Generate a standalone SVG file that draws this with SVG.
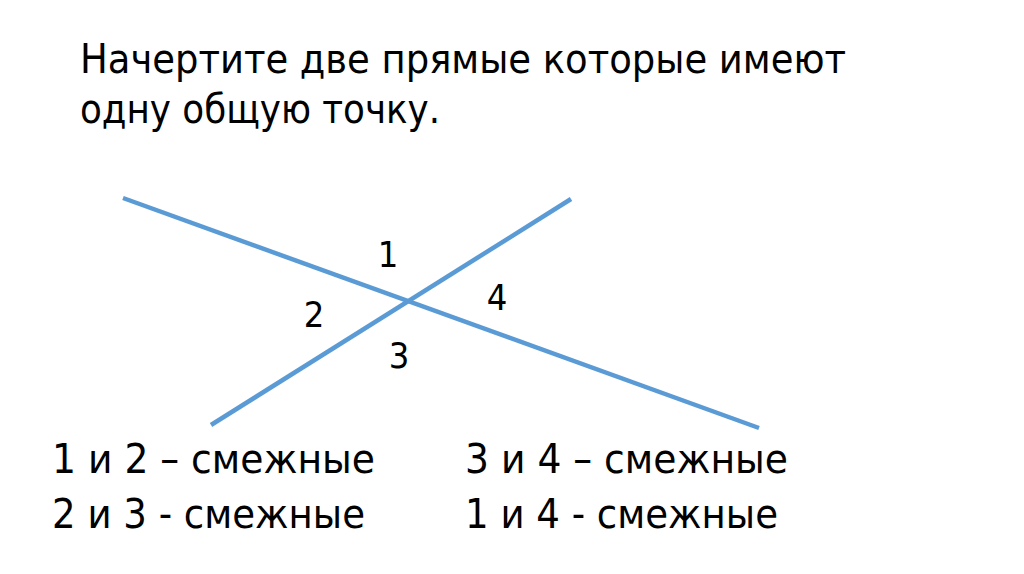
<svg xmlns="http://www.w3.org/2000/svg" width="1024" height="574" viewBox="0 0 1024 574">
<style>
.t{font-family:"DejaVu Sans Condensed","DejaVu Sans","Noto Sans",sans-serif;font-stretch:condensed;fill:#000}
.title{font-size:40px}
.num{font-size:36px;text-anchor:middle}
.cap{font-size:41px}
.ln{stroke:#5B9BD5;stroke-width:4.5;stroke-linecap:butt;fill:none}
</style>
<rect width="1024" height="574" fill="#ffffff"/>
<g id="title">
<text class="t title" x="80" y="73" textLength="766" lengthAdjust="spacingAndGlyphs">Начертите две прямые которые имеют</text>
<text class="t title" x="80" y="123" textLength="360" lengthAdjust="spacingAndGlyphs">одну общую точку.</text>
</g>
<g id="connectors">
<line class="ln" x1="123" y1="198" x2="759" y2="428"/>
<line class="ln" x1="211" y1="425" x2="571" y2="199"/>
</g>
<g id="angle-1"><text class="t num" x="388" y="267">1</text></g>
<g id="angle-2"><text class="t num" x="314" y="327">2</text></g>
<g id="angle-3"><text class="t num" x="399" y="368">3</text></g>
<g id="angle-4"><text class="t num" x="497" y="310">4</text></g>
<g id="captions">
<text class="t cap" x="52" y="473" textLength="323" lengthAdjust="spacingAndGlyphs">1 и 2 – смежные</text>
<text class="t cap" x="52" y="528" textLength="313" lengthAdjust="spacingAndGlyphs">2 и 3 - смежные</text>
<text class="t cap" x="465" y="473" textLength="323" lengthAdjust="spacingAndGlyphs">3 и 4 – смежные</text>
<text class="t cap" x="465" y="528" textLength="313" lengthAdjust="spacingAndGlyphs">1 и 4 - смежные</text>
</g>
</svg>
